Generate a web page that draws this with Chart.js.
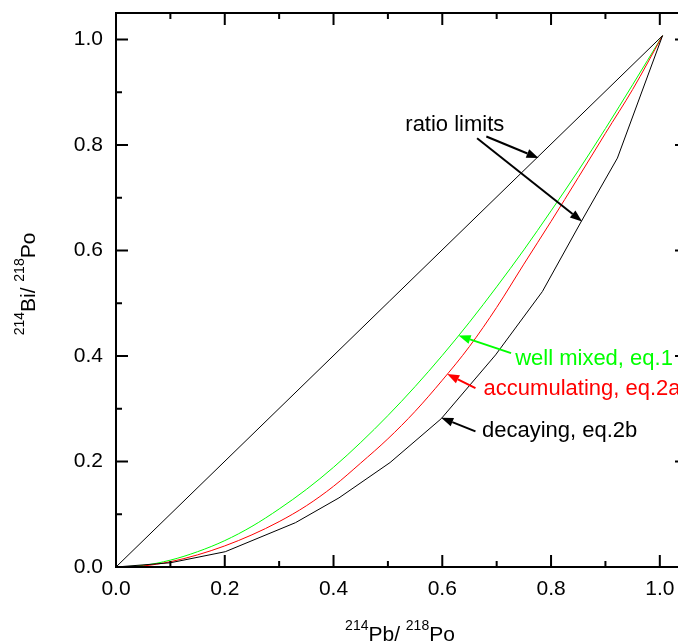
<!DOCTYPE html>
<html>
<head>
<meta charset="utf-8">
<script src="https://cdn.jsdelivr.net/npm/chart.js@4/dist/chart.umd.min.js"></script>
<style>
html,body{margin:0;padding:0;background:#fff;overflow:hidden;}
#wrap{position:relative;width:700px;height:644px;}
</style>
</head>
<body>
<div id="wrap"><canvas id="c"></canvas></div>
<script>
// ---- data ----
const xLimit = [0, 1.005];
const yLimit = [0, 1.007];

const xMixed = [0, 0.05, 0.1, 0.15, 0.2, 0.25, 0.3, 0.35, 0.4, 0.45, 0.5, 0.55, 0.6, 0.65, 0.7, 0.75, 0.8, 0.85, 0.9, 0.95, 1.005];
const yMixed = [0, 0.003, 0.013, 0.029, 0.050, 0.077, 0.110, 0.147, 0.189, 0.236, 0.287, 0.342, 0.401, 0.464, 0.531, 0.601, 0.675, 0.751, 0.831, 0.914, 1.007];

const xAccum = [0, 0.05, 0.1, 0.15, 0.2, 0.25, 0.3, 0.35, 0.4, 0.45, 0.5, 0.55, 0.6, 0.65, 0.7, 0.75, 0.8, 0.85, 0.9, 0.95, 1.005];
const yAccum = [0, 0.002, 0.010, 0.023, 0.040, 0.061, 0.086, 0.116, 0.153, 0.197, 0.243, 0.295, 0.354, 0.418, 0.492, 0.574, 0.655, 0.738, 0.822, 0.905, 1.007];

const xDecay = [0, 0.1, 0.201, 0.330, 0.410, 0.504, 0.598, 0.698, 0.784, 0.854, 0.922, 1.005];
const yDecay = [0, 0.008, 0.029, 0.084, 0.131, 0.198, 0.281, 0.402, 0.522, 0.652, 0.775, 1.007];

const xTickValues = [0, 0.2, 0.4, 0.6, 0.8, 1.0];
const xTickLabels = ['0.0', '0.2', '0.4', '0.6', '0.8', '1.0'];
const yTickValues = [0, 0.2, 0.4, 0.6, 0.8, 1.0];
const yTickLabels = ['0.0', '0.2', '0.4', '0.6', '0.8', '1.0'];
const minorTickValues = [0.1, 0.3, 0.5, 0.7, 0.9];

const labelRatio = 'ratio limits';
const labelMixed = 'well mixed, eq.1';
const labelAccum = 'accumulating, eq.2a';
const labelDecay = 'decaying, eq.2b';

// ---- helpers ----
const pts = (xs, ys) => xs.map((x, i) => ({x: x, y: ys[i]}));
const FONT = '"Liberation Sans", Arial, Helvetica, sans-serif';

function arrow(ctx, x0, y0, x1, y1, color) {
  const ang = Math.atan2(y1 - y0, x1 - x0);
  const L = 12, W = 4.5;
  const bx = x1 - L * Math.cos(ang), by = y1 - L * Math.sin(ang);
  ctx.save();
  ctx.strokeStyle = color; ctx.fillStyle = color; ctx.lineWidth = 2;
  ctx.beginPath(); ctx.moveTo(x0, y0); ctx.lineTo(bx, by); ctx.stroke();
  ctx.beginPath();
  ctx.moveTo(x1, y1);
  ctx.lineTo(bx + W * Math.sin(ang), by - W * Math.cos(ang));
  ctx.lineTo(bx - W * Math.sin(ang), by + W * Math.cos(ang));
  ctx.closePath(); ctx.fill();
  ctx.restore();
}

function supText(ctx, parts, cx, y) {
  const main = '21px ' + FONT, sup = '14px ' + FONT;
  let w = 0;
  parts.forEach(p => { ctx.font = p[1] ? sup : main; w += ctx.measureText(p[0]).width; });
  let x = cx - w / 2;
  ctx.textAlign = 'left'; ctx.textBaseline = 'alphabetic';
  parts.forEach(p => {
    ctx.font = p[1] ? sup : main;
    ctx.fillText(p[0], x, p[1] ? y - 11 : y);
    x += ctx.measureText(p[0]).width;
  });
}

const decor = {
  id: 'decor',
  afterDraw(chart) {
    const ctx = chart.ctx, a = chart.chartArea;
    const sx = chart.scales.x, sy = chart.scales.y;
    const X = v => sx.getPixelForValue(v), Y = v => sy.getPixelForValue(v);
    ctx.save();
    ctx.strokeStyle = '#000'; ctx.lineWidth = 2;
    ctx.strokeRect(a.left, a.top, a.right - a.left, a.bottom - a.top);
    ctx.beginPath();
    const tick = (vals, len) => {
      vals.forEach(v => {
        const px = X(v), py = Y(v);
        ctx.moveTo(px, a.bottom); ctx.lineTo(px, a.bottom - len);
        ctx.moveTo(px, a.top); ctx.lineTo(px, a.top + len);
        ctx.moveTo(a.left, py); ctx.lineTo(a.left + len, py);
        ctx.moveTo(a.right, py); ctx.lineTo(a.right - len, py);
      });
    };
    tick(xTickValues, 12);
    tick(minorTickValues, 6);
    ctx.stroke();

    ctx.fillStyle = '#000';
    // axis titles
    supText(ctx, [['214', true], ['Pb/ ', false], ['218', true], ['Po', false]], 400, 641);
    ctx.save();
    ctx.translate(35, 284);
    ctx.rotate(-Math.PI / 2);
    supText(ctx, [['214', true], ['Bi/ ', false], ['218', true], ['Po', false]], 0, 0);
    ctx.restore();

    // annotations
    ctx.font = '22px ' + FONT;
    ctx.textAlign = 'left'; ctx.textBaseline = 'alphabetic';
    ctx.fillStyle = '#000';
    ctx.fillText(labelRatio, X(0.532), Y(0.826));
    arrow(ctx, X(0.681), Y(0.816), X(0.777), Y(0.775), '#000');
    arrow(ctx, X(0.664), Y(0.8125), X(0.857), Y(0.655), '#000');

    ctx.fillStyle = '#00ff00';
    ctx.fillText(labelMixed, X(0.734), Y(0.383));
    arrow(ctx, X(0.7265), Y(0.4053), X(0.630), Y(0.4386), '#00ff00');

    ctx.fillStyle = '#ff0000';
    ctx.fillText(labelAccum, X(0.676), Y(0.326));
    arrow(ctx, X(0.661), Y(0.339), X(0.609), Y(0.366), '#ff0000');

    ctx.fillStyle = '#000';
    ctx.fillText(labelDecay, X(0.673), Y(0.246));
    arrow(ctx, X(0.661), Y(0.257), X(0.598), Y(0.283), '#000');
    ctx.restore();
  }
};

const lineDs = (data, color, tension) => ({
  data: data, showLine: true, borderColor: color, borderWidth: 1,
  pointRadius: 0, tension: tension, fill: false,
  cubicInterpolationMode: tension ? 'monotone' : 'default'
});

new Chart(document.getElementById('c'), {
  type: 'scatter',
  data: {
    datasets: [
      lineDs(pts(xLimit, yLimit), '#000', 0),
      lineDs(pts(xDecay, yDecay), '#000', 0),
      lineDs(pts(xAccum, yAccum), '#ff0000', 0.4),
      lineDs(pts(xMixed, yMixed), '#00ff00', 0.4)
    ]
  },
  options: {
    responsive: true, maintainAspectRatio: false, animation: false,
    layout: {padding: {top: 13, right: 13, left: 0, bottom: 0}},
    plugins: {legend: {display: false}, tooltip: {enabled: false}},
    scales: {
      x: {
        type: 'linear', min: 0, max: 1.05,
        afterBuildTicks: s => { s.ticks = xTickValues.map(v => ({value: v})); },
        afterFit: s => { s.height = 77; s.paddingLeft = 0; s.paddingRight = 0; },
        ticks: {callback: (v, i) => xTickLabels[i], color: '#000', font: {family: FONT, size: 21}, padding: 10, maxRotation: 0, autoSkip: false},
        grid: {display: false, drawTicks: false},
        border: {display: false}
      },
      y: {
        type: 'linear', min: 0, max: 1.05,
        afterBuildTicks: s => { s.ticks = yTickValues.map(v => ({value: v})); },
        afterFit: s => { s.width = 116; s.paddingTop = 0; s.paddingBottom = 0; },
        ticks: {callback: (v, i) => yTickLabels[i], color: '#000', font: {family: FONT, size: 21}, padding: 13, autoSkip: false},
        grid: {display: false, drawTicks: false},
        border: {display: false}
      }
    }
  },
  plugins: [decor]
});
</script>
</body>
</html>
